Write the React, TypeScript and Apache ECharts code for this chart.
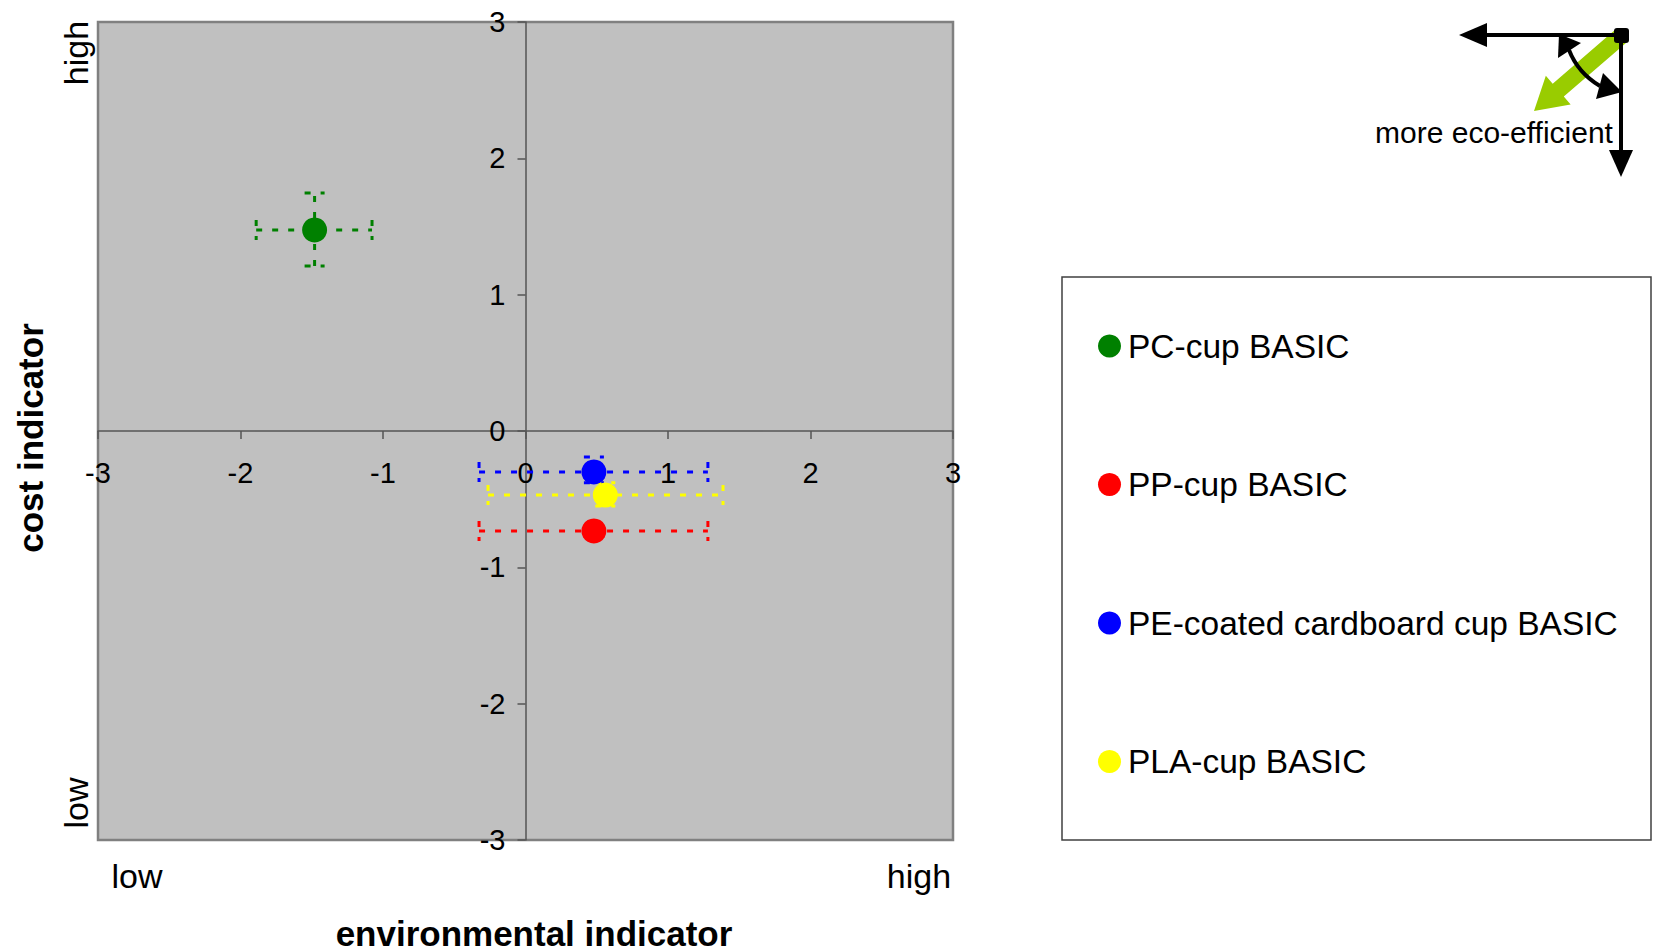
import React, { useEffect, useRef } from "react";
import * as echarts from "echarts";

const FONT = '"Liberation Sans", Arial, Helvetica, sans-serif';

const products = ["PC-cup BASIC", "PP-cup BASIC", "PE-coated cardboard cup BASIC", "PLA-cup BASIC"];
const colors = ["#008000", "#ff0000", "#0000ff", "#ffff00"];
const envValues = [-1.48, 0.48, 0.48, 0.56];
const costValues = [1.475, -0.733, -0.3, -0.47];
const envLow = [-1.89, -0.326, -0.326, -0.263];
const envHigh = [-1.077, 1.28, 1.28, 1.386];
const costLow = [1.21, -0.77, -0.38, -0.55];
const costHigh = [1.746, -0.7, -0.19, -0.38];

const axisMin = -3;
const axisMax = 3;
const axisInterval = 1;

const GRID_LEFT = 98;
const GRID_TOP = 22;
const GRID_W = 855;
const GRID_H = 818;

export default function App() {
  const ref = useRef<HTMLDivElement>(null);

  useEffect(() => {
    if (!ref.current) return;
    const chart = echarts.init(ref.current, undefined, { renderer: "svg" });

    const scatterSeries = products.map((name, i) => ({
      name,
      type: "scatter",
      data: [[envValues[i], costValues[i]]],
      symbol: "circle",
      symbolSize: 25,
      itemStyle: { color: colors[i], opacity: 1 },
      z: 5,
    }));

    const errData = products.map((_, i) => [
      envValues[i],
      costValues[i],
      envLow[i],
      envHigh[i],
      costLow[i],
      costHigh[i],
    ]);

    const errorSeries = {
      type: "custom",
      name: "errors",
      silent: true,
      z: 3,
      data: errData,
      renderItem: (params: any, api: any) => {
        const x = api.value(0);
        const y = api.value(1);
        const xl = api.value(2);
        const xh = api.value(3);
        const yl = api.value(4);
        const yh = api.value(5);
        const c = colors[params.dataIndex];
        const pL = api.coord([xl, y]);
        const pR = api.coord([xh, y]);
        const pB = api.coord([x, yl]);
        const pT = api.coord([x, yh]);
        const style = { stroke: c, lineWidth: 3, lineDash: [6, 10], fill: null };
        const cap = 10;
        const ln = (x1: number, y1: number, x2: number, y2: number) => ({
          type: "line",
          shape: { x1, y1, x2, y2 },
          style,
        });
        return {
          type: "group",
          children: [
            ln(pL[0], pL[1], pR[0], pR[1]),
            ln(pL[0], pL[1] - cap, pL[0], pL[1] + cap),
            ln(pR[0], pR[1] - cap, pR[0], pR[1] + cap),
            ln(pB[0], pB[1], pT[0], pT[1]),
            ln(pT[0] - cap, pT[1], pT[0] + cap, pT[1]),
            ln(pB[0] - cap, pB[1], pB[0] + cap, pB[1]),
          ],
        };
      },
    };

    const axisCommon = {
      type: "value",
      min: axisMin,
      max: axisMax,
      interval: axisInterval,
      splitLine: { show: false },
      axisLine: { onZero: false, lineStyle: { color: "#555", width: 1.5 } },
      axisTick: { show: true, length: 8, lineStyle: { color: "#555", width: 1.5 } },
    };

    // green arrow geometry
    const tip = [1534, 111];
    const corner = [1621, 36];
    const dx = corner[0] - tip[0];
    const dy = corner[1] - tip[1];
    const L = Math.sqrt(dx * dx + dy * dy);
    const u = [dx / L, dy / L];
    const n = [-u[1], u[0]];
    const B = [tip[0] + 32 * u[0], tip[1] + 32 * u[1]];
    const sw = 8.5;
    const hw = 19;
    const greenPts = [
      [corner[0] - sw * n[0], corner[1] - sw * n[1]],
      [corner[0] + sw * n[0], corner[1] + sw * n[1]],
      [B[0] + sw * n[0], B[1] + sw * n[1]],
      [B[0] + hw * n[0], B[1] + hw * n[1]],
      tip,
      [B[0] - hw * n[0], B[1] - hw * n[1]],
      [B[0] - sw * n[0], B[1] - sw * n[1]],
    ];

    const black = { fill: "#000" };
    const textStyle = (text: string, size: number, bold = false) => ({
      text,
      fontSize: size,
      fontFamily: FONT,
      fontWeight: bold ? "bold" : "normal",
      fill: "#000",
      align: "center",
      verticalAlign: "middle",
    });

    const option: any = {
      animation: false,
      backgroundColor: "#ffffff",
      grid: {
        left: GRID_LEFT,
        top: GRID_TOP,
        width: GRID_W,
        height: GRID_H,
        show: true,
        backgroundColor: "#c0c0c0",
        borderColor: "#808080",
        borderWidth: 2.5,
        containLabel: false,
      },
      xAxis: {
        ...axisCommon,
        position: "bottom",
        offset: -GRID_H / 2,
        axisLabel: { fontSize: 29, color: "#000", fontFamily: FONT, margin: 27 },
      },
      yAxis: {
        ...axisCommon,
        position: "left",
        offset: -GRID_W / 2,
        axisLabel: { fontSize: 29, color: "#000", fontFamily: FONT, margin: 20 },
      },
      legend: {
        data: products,
        orient: "vertical",
        left: 1098,
        top: 326,
        padding: 0,
        itemWidth: 23,
        itemHeight: 23,
        itemGap: 98.5,
        icon: "circle",
        z: 10,
        selectedMode: false,
        textStyle: { fontSize: 33.5, color: "#000", fontFamily: FONT, lineHeight: 40, padding: [0, 0, 0, 2] },
      },
      graphic: [
        {
          type: "rect",
          z: 0,
          shape: { x: 1062, y: 277, width: 589, height: 563 },
          style: { fill: "#fff", stroke: "#404040", lineWidth: 1.5 },
        },
        { type: "text", x: 534, y: 933, style: textStyle("environmental indicator", 35, true) },
        { type: "text", x: 30, y: 438, rotation: Math.PI / 2, style: textStyle("cost indicator", 35, true) },
        { type: "text", x: 76, y: 53, rotation: Math.PI / 2, style: textStyle("high", 34) },
        { type: "text", x: 76, y: 803, rotation: Math.PI / 2, style: textStyle("low", 34) },
        { type: "text", x: 137, y: 876, style: textStyle("low", 34) },
        { type: "text", x: 919, y: 876, style: textStyle("high", 34) },
        { type: "text", x: 1494, y: 132, style: textStyle("more eco-efficient", 30) },
        { type: "polygon", shape: { points: greenPts }, style: { fill: "#99cc00" } },
        { type: "line", shape: { x1: 1482, y1: 35, x2: 1622, y2: 35 }, style: { stroke: "#000", lineWidth: 4 } },
        { type: "polygon", shape: { points: [[1459, 35], [1487, 23], [1487, 47]] }, style: black },
        { type: "line", shape: { x1: 1621, y1: 35, x2: 1621, y2: 155 }, style: { stroke: "#000", lineWidth: 4 } },
        { type: "polygon", shape: { points: [[1621, 177], [1609, 150], [1633, 150]] }, style: black },
        {
          type: "bezierCurve",
          shape: { x1: 1569, y1: 50, cpx1: 1578, cpy1: 73, x2: 1600, y2: 86 },
          style: { stroke: "#000", lineWidth: 4, fill: null },
        },
        { type: "polygon", shape: { points: [[1559, 34], [1581, 43], [1558, 58]] }, style: black },
        { type: "polygon", shape: { points: [[1622, 92], [1596, 99], [1603, 73]] }, style: black },
        { type: "rect", shape: { x: 1614, y: 28, width: 15, height: 15, r: 3 }, style: black },
      ],
      series: [errorSeries, ...scatterSeries],
    };

    chart.setOption(option);
    return () => chart.dispose();
  }, []);

  return (
    <div
      ref={ref}
      style={{ position: "fixed", left: 0, top: 0, width: 1657, height: 952, background: "#fff" }}
    />
  );
}
